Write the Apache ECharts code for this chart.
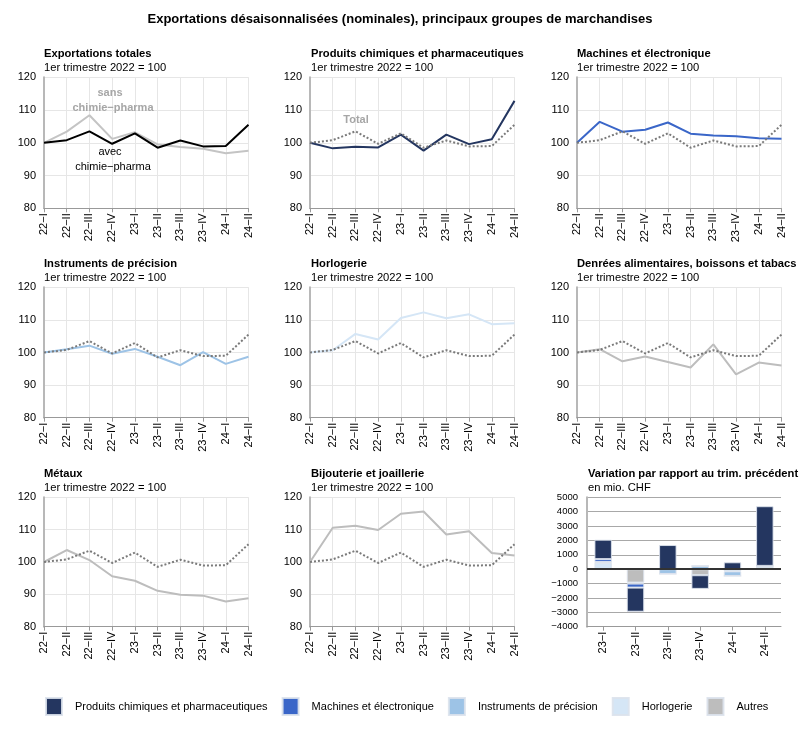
<!DOCTYPE html>
<html><head><meta charset="utf-8">
<script src="https://cdn.jsdelivr.net/npm/echarts@6/dist/echarts.min.js"></script>
<style>html,body{margin:0;padding:0;background:#fff}#c{width:800px;height:731px}</style>
</head><body><div id="c"></div>
<script>
// ---- data ----
const quarters = ['22−I','22−II','22−III','22−IV','23−I','23−II','23−III','23−IV','24−I','24−II'];
const total      = [100, 100.8, 103.5, 99.7, 102.9, 98.5, 100.7, 98.9, 99.0, 105.5];
const sansChimie = [100, 103.4, 108.4, 101.2, 103.2, 99.5, 98.7, 98.2, 96.8, 97.6];
const chimie     = [100, 98.3, 98.8, 98.6, 102.5, 97.6, 102.5, 99.6, 101.1, 112.8];
const machines   = [100, 106.4, 103.4, 104.0, 106.2, 102.8, 102.2, 102.0, 101.4, 101.2];
const instruments= [100, 101.0, 102.1, 99.6, 101.1, 98.7, 96.1, 100.1, 96.5, 98.7];
const horlogerie = [100, 100.7, 105.7, 104.0, 110.6, 112.3, 110.5, 111.7, 108.7, 109.0];
const denrees    = [100, 101.0, 97.3, 98.8, 97.1, 95.4, 102.5, 93.3, 96.9, 96.0];
const metaux     = [100, 103.7, 100.6, 95.6, 94.2, 91.1, 89.9, 89.6, 87.8, 88.8];
const bijoux     = [100, 110.6, 111.2, 109.9, 114.9, 115.6, 108.5, 109.5, 102.8, 102.0];
const yTicks = [80, 90, 100, 110, 120];

const barQuarters = ['23−I','23−II','23−III','23−IV','24−I','24−II'];
const barChimie      = [1350, -1680, 1680, -950, 480, 4150];
const barMachines    = [200, -280, 0, 0, 0, 0];
const barInstruments = [50, -70, -330, 230, -320, 80];
const barHorlogerie  = [450, 50, 0, 0, -150, 0];
const barAutres      = [0, -930, 0, -420, 0, 150];
const barTicks = [-4000, -3000, -2000, -1000, 0, 1000, 2000, 3000, 4000, 5000];

const FONT = '"Liberation Sans", Arial, sans-serif';
const C = {chem:'#243660', mach:'#3a66c8', inst:'#9dc3e6', horl:'#d5e6f6', autres:'#bdbdbd'};

const panels = [
  {title:'Exportations totales', main:total, mainColor:'#000', other:sansChimie, otherColor:'#c4c4c4', solidTotal:true},
  {title:'Produits chimiques et pharmaceutiques', main:chimie, mainColor:C.chem},
  {title:'Machines et électronique', main:machines, mainColor:C.mach},
  {title:'Instruments de précision', main:instruments, mainColor:C.inst},
  {title:'Horlogerie', main:horlogerie, mainColor:C.horl},
  {title:'Denrées alimentaires, boissons et tabacs', main:denrees, mainColor:C.autres},
  {title:'Métaux', main:metaux, mainColor:C.autres},
  {title:'Bijouterie et joaillerie', main:bijoux, mainColor:C.autres}
];
const colLeft = [44, 310, 577];
const colTitleLeft = [44, 311, 577];
const rowTop = [77.3, 287.3, 497.3];
const rowH = [131, 130.4, 129.4];
const rowTitleTop = [48, 258, 468];
const W = 204.5;
const TFS = 11.2;

const grids = [], xAxes = [], yAxes = [], series = [], titles = [];
titles.push({text:'Exportations désaisonnalisées (nominales), principaux groupes de marchandises',
  left:'center', top:13, padding:0, textStyle:{fontFamily:FONT, fontSize:13, fontWeight:'bold', color:'#000'}});

panels.forEach((p, i) => {
  const r = Math.floor(i / 3), c = i % 3;
  grids.push({left:colLeft[c], top:rowTop[r], width:W, height:rowH[r]});
  titles.push({text:p.title, subtext:'1er trimestre 2022 = 100', left:colTitleLeft[c], top:rowTitleTop[r], itemGap:3, padding:0,
    textStyle:{fontFamily:FONT, fontSize:TFS, fontWeight:'bold', color:'#000'},
    subtextStyle:{fontFamily:FONT, fontSize:TFS, color:'#000'}});
  xAxes.push({type:'category', gridIndex:i, data:quarters, boundaryGap:false,
    axisLine:{lineStyle:{color:'#999', width:1}},
    axisTick:{show:true, length:4, lineStyle:{color:'#999'}},
    splitLine:{show:true, lineStyle:{color:'#e6e6e6', width:1}},
    axisLabel:{rotate:90, margin:5, fontFamily:FONT, fontSize:11, color:'#000', interval:0}});
  yAxes.push({type:'value', gridIndex:i, min:yTicks[0], max:yTicks[yTicks.length-1], interval:10,
    axisLine:{show:true, lineStyle:{color:'#b8b8b8', width:2}},
    axisTick:{show:false},
    splitLine:{show:true, lineStyle:{color:'#e6e6e6', width:1}},
    axisLabel:{margin:8, fontFamily:FONT, fontSize:11, color:'#000'}});
  if (p.solidTotal) {
    series.push({type:'line', name:'sans', xAxisIndex:i, yAxisIndex:i, data:p.other, symbol:'none',
      lineStyle:{color:p.otherColor, width:2}, z:2});
    series.push({type:'line', name:'avec', xAxisIndex:i, yAxisIndex:i, data:p.main, symbol:'none',
      lineStyle:{color:p.mainColor, width:2}, z:3});
  } else {
    series.push({type:'line', name:'p'+i, xAxisIndex:i, yAxisIndex:i, data:p.main, symbol:'none',
      lineStyle:{color:p.mainColor, width:2}, z:2});
    series.push({type:'line', name:'t'+i, xAxisIndex:i, yAxisIndex:i, data:total, symbol:'none',
      lineStyle:{color:'#7a7a7a', width:2, type:[2,2]}, z:3});
  }
});

// bar panel
const bi = 8;
grids.push({left:587, top:497.3, width:194, height:129.4});
titles.push({text:'Variation par rapport au trim. précédent', subtext:'en mio. CHF', left:588, top:468, itemGap:3, padding:0,
  textStyle:{fontFamily:FONT, fontSize:TFS, fontWeight:'bold', color:'#000'},
  subtextStyle:{fontFamily:FONT, fontSize:TFS, color:'#000'}});
xAxes.push({type:'category', gridIndex:bi, data:barQuarters,
  axisLine:{onZero:false, lineStyle:{color:'#999', width:1}},
  axisTick:{show:true, alignWithLabel:true, length:4, lineStyle:{color:'#999'}},
  splitLine:{show:false},
  axisLabel:{rotate:90, margin:5, fontFamily:FONT, fontSize:11, color:'#000', interval:0}});
yAxes.push({type:'value', gridIndex:bi, min:barTicks[0], max:barTicks[barTicks.length-1], interval:1000,
  axisLine:{show:true, lineStyle:{color:'#b8b8b8', width:2}},
  axisTick:{show:false},
  splitLine:{show:true, lineStyle:{color:'#a8a8a8', width:1}},
  axisLabel:{margin:9, fontFamily:FONT, fontSize:9.5, color:'#000',
    formatter: v => (v < 0 ? '−' + (-v) : String(v))}});
const barDefs = [
  ['Autres', barAutres, C.autres],
  ['Horlogerie', barHorlogerie, C.horl],
  ['Instruments de précision', barInstruments, C.inst],
  ['Machines et électronique', barMachines, C.mach],
  ['Produits chimiques et pharmaceutiques', barChimie, C.chem]
];
barDefs.forEach((d, k) => {
  const s = {type:'bar', name:d[0], xAxisIndex:bi, yAxisIndex:bi, data:d[1], stack:'v', barWidth:'54%',
    itemStyle:{color:d[2], borderColor:'rgba(220,226,236,0.9)', borderWidth:1}};
  if (k === 0) s.markLine = {silent:true, symbol:'none', label:{show:false},
    lineStyle:{color:'#333', width:2, type:'solid'}, data:[{yAxis:0}], z:5};
  series.push(s);
});

const option = {
  animation:false,
  textStyle:{fontFamily:FONT},
  title:titles,
  grid:grids, xAxis:xAxes, yAxis:yAxes, series:series,
  legend:{data:['Produits chimiques et pharmaceutiques','Machines et électronique','Instruments de précision','Horlogerie','Autres'],
    left:45, top:697, padding:0, icon:'rect', itemWidth:16, itemHeight:17, itemGap:14,
    textStyle:{fontFamily:FONT, fontSize:11, color:'#000', padding:[0,0,0,8]}},
  graphic:[
    {type:'text', x:110, y:93, z:10, style:{text:'sans', fill:'#a6a6a6', font:'bold 11px '+FONT, align:'center', verticalAlign:'middle'}},
    {type:'text', x:113, y:108, z:10, style:{text:'chimie−pharma', fill:'#a6a6a6', font:'bold 11px '+FONT, align:'center', verticalAlign:'middle'}},
    {type:'text', x:110, y:152, z:10, style:{text:'avec', fill:'#000', font:'11px '+FONT, align:'center', verticalAlign:'middle'}},
    {type:'text', x:113, y:167, z:10, style:{text:'chimie−pharma', fill:'#000', font:'11px '+FONT, align:'center', verticalAlign:'middle'}},
    {type:'text', x:356, y:120, z:10, style:{text:'Total', fill:'#a6a6a6', font:'bold 11px '+FONT, align:'center', verticalAlign:'middle'}}
  ]
};
const chart = echarts.init(document.getElementById('c'), null, {renderer:'canvas'});
chart.setOption(option);
</script></body></html>
